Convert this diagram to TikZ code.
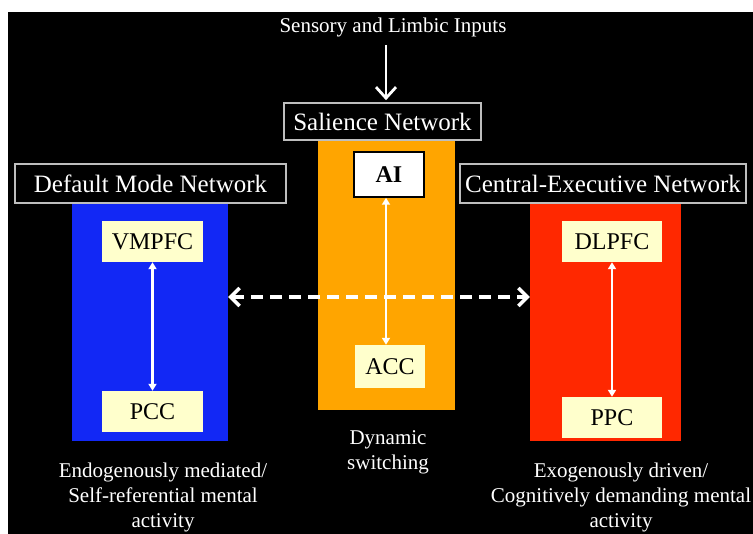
\documentclass[tikz,border=0pt]{standalone}
\usepackage{fontspec}
\setmainfont{Liberation Serif}
\usetikzlibrary{arrows.meta}
\definecolor{dmnblue}{RGB}{18,40,245}
\definecolor{salorange}{RGB}{255,165,0}
\definecolor{cenred}{RGB}{255,40,0}
\definecolor{cream}{RGB}{255,255,204}
\definecolor{bordergrey}{RGB}{190,190,190}
\begin{document}
\begin{tikzpicture}[x=1pt,y=-1pt,
  netlabel/.style={draw=bordergrey, line width=1.6pt, fill=black, text=white, inner sep=0pt,
    font=\fontsize{25}{30}\selectfont},
  netbody/.style={inner sep=0pt, draw=none},
  region/.style={fill=cream, draw=none, inner sep=0pt, text=black, font=\fontsize{24}{28}\selectfont},
  aibox/.style={fill=white, draw=black, line width=1.5pt, inner sep=0pt, text=black, font=\bfseries\fontsize{24}{28}\selectfont},
  whitetext/.style={text=white, align=center, font=\fontsize{21}{25}\selectfont, inner sep=0pt},
  inarrow/.style={draw=white, line width=2.8pt, -{Straight Barb[length=11pt,width=20pt,line width=2.8pt]}},
  dasharrow/.style={draw=white, line width=3.5pt, dash pattern=on 12pt off 7pt,
    {Straight Barb[length=9pt,width=18pt,line width=3.5pt]}-{Straight Barb[length=9pt,width=18pt,line width=3.5pt]}},
  linkarrow/.style={draw=white, line width=2.4pt, {Triangle[length=7pt,width=8pt]}-{Triangle[length=7pt,width=8pt]}}
]
\useasboundingbox (0,0) rectangle (753,534);
\fill[white] (0,0) rectangle (753,534);
\fill[black] (8,12) rectangle (753,534);

% coloured network bodies
\node[netbody, fill=salorange, minimum width=137pt, minimum height=270pt] (orange) at (386.5,275) {};
\node[netbody, fill=dmnblue, minimum width=156pt, minimum height=238pt] (blue) at (150,322) {};
\node[netbody, fill=cenred, minimum width=151pt, minimum height=238pt] (red) at (605.5,322) {};

% network labels
\node[netlabel, minimum width=197pt, minimum height=37pt] (sal) at (382.5,121.5) {Salience Network};
\node[netlabel, minimum width=271pt, minimum height=39pt] (dmn) at (150.5,183.5) {Default Mode Network};
\node[netlabel, minimum width=286pt, minimum height=39pt] (cen) at (603,183.5) {Central-Executive Network};

% regions
\node[aibox, minimum width=70pt, minimum height=45pt] (ai) at (389,174.5) {AI};
\node[region, minimum width=70pt, minimum height=43pt] (acc) at (390,366.5) {ACC};
\node[region, minimum width=101pt, minimum height=41pt] (vm) at (152.5,241.5) {VMPFC};
\node[region, minimum width=101pt, minimum height=41pt] (pcc) at (152.5,411.5) {PCC};
\node[region, minimum width=100pt, minimum height=41pt] (dl) at (612,241.5) {DLPFC};
\node[region, minimum width=100pt, minimum height=41pt] (ppc) at (612,417.5) {PPC};

% texts
\node[whitetext] (inputs) at (393,27) {Sensory and Limbic Inputs};
\node[whitetext] (dyn) at (388,452.5) {Dynamic\\switching};
\node[whitetext] (endo) at (163,497) {Endogenously mediated/\\Self-referential mental\\activity};
\node[whitetext] (exo) at (621,497) {Exogenously driven/\\Cognitively demanding mental\\activity};

% connectors
\coordinate (inTop) at (386,45);
\draw[inarrow] (inTop) -- ([yshift=2pt]sal.north -| inTop);
\draw[dasharrow] ([yshift=25pt]blue.east) -- ([yshift=25pt]red.west);
\draw[linkarrow] ([xshift=-3pt]ai.south) -- ([xshift=-4pt]acc.north);
\draw[linkarrow] (vm.south) -- (pcc.north);
\draw[linkarrow] (dl.south) -- (ppc.north);
\end{tikzpicture}
\end{document}
